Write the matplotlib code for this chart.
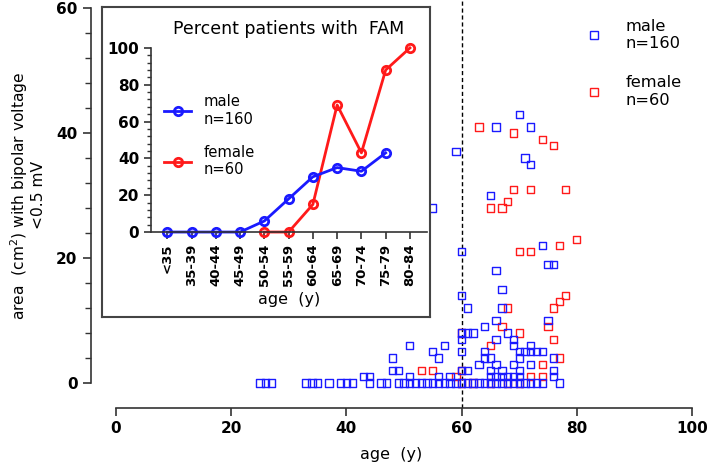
#Scatter of low-voltage area vs age, with an inset of percent patients with FAM

import numpy as np
import matplotlib
matplotlib.use('Agg')
import matplotlib.pyplot as plt
from matplotlib.ticker import MultipleLocator, FixedLocator
from matplotlib.lines import Line2D

# male scatter (age in years, area in cm2)
male_age = [25, 26, 27, 33, 34, 35, 37, 39, 40, 41, 44, 46, 47, 49, 50, 51, 52, 53,
            54, 55, 56, 57, 58, 59, 60, 61, 62, 63, 64, 65, 66, 67, 68, 69, 70, 71,
            72, 73, 74, 77,
            43, 44, 51, 56, 58, 65, 66, 67, 68, 69, 70, 76,
            48, 49, 60, 61, 65, 67, 70, 76,
            63, 66, 69, 72,
            48, 56, 64, 65, 70, 76,
            55, 60, 64, 70, 71, 72, 73, 74,
            51, 57, 69, 72,
            60, 66, 69,
            60, 61, 62, 68,
            64, 66, 75, 61, 67, 60, 67, 66, 75, 76, 60, 74,
            55, 65, 72, 71, 59, 66, 72, 70]
male_area = [0] * 40 + [1] * 12 + [2] * 8 + [3] * 4 + [4] * 6 + [5] * 8 + [6] * 4 + \
            [7] * 3 + [8] * 4 + \
            [9, 10, 10, 12, 12, 14, 15, 18, 19, 19, 21, 22,
             28, 30, 35, 36, 37, 41, 41, 43]

# female scatter
female_age = [60, 62, 65, 68, 70, 59, 72, 74, 53, 55, 60, 74, 77, 65, 76, 60, 70,
              67, 75, 68, 76, 77, 78, 70, 72, 77, 80, 65, 67, 68, 69, 72, 78,
              76, 74, 69, 63]
female_area = [0, 0, 0, 0, 0, 1, 1, 1, 2, 2, 2, 3, 4, 6, 7, 8, 8,
               9, 9, 12, 12, 13, 14, 21, 21, 22, 23, 28, 28, 29, 31, 31, 31,
               38, 39, 40, 41]

# inset: percent patients with FAM per age group
age_groups = ['<35', '35-39', '40-44', '45-49', '50-54', '55-59', '60-64',
              '65-69', '70-74', '75-79', '80-84']
male_pct = [0, 0, 0, 0, 6, 18, 30, 35, 33, 43]
female_pct = [0, 0, 15, 69, 43, 88, 100]
female_start = 4

BLUE = '#1a1aff'
RED = '#ff1a1a'
AXC = '#333333'

plt.rcParams['font.family'] = 'DejaVu Sans'

fig = plt.figure(figsize=(7.08, 4.65), dpi=100)

def MainScatter(fig):
    '''Draws the main scatter plot of area vs age'''
    ax = fig.add_axes([0.1281, 0.1226, 0.9774 - 0.1281, 1.0 - 0.1226])
    ax.scatter(female_age, female_area, marker='s', s=28, facecolors='none',
               edgecolors=RED, linewidths=1.0, zorder=3)
    ax.scatter(male_age, male_area, marker='s', s=28, facecolors='none',
               edgecolors=BLUE, linewidths=1.0, zorder=4)
    ax.axvline(60, color='black', lw=1.0, ls=(0, (3, 2)), zorder=2)
    ax.set_xlim(-4.4, 100)
    ax.set_ylim(-4, 61.3)
    for s in ['top', 'right']:
        ax.spines[s].set_visible(False)
    ax.spines['left'].set_bounds(0, 60)
    ax.spines['bottom'].set_bounds(0, 100)
    for s in ['left', 'bottom']:
        ax.spines[s].set_linewidth(1.2)
        ax.spines[s].set_color(AXC)
    ax.set_xticks(np.arange(0, 101, 20))
    ax.set_yticks(np.arange(0, 61, 20))
    ax.yaxis.set_minor_locator(FixedLocator(np.arange(0, 61, 4)))
    ax.tick_params(axis='both', which='major', length=6, width=1.2, color=AXC,
                   labelsize=11)
    ax.tick_params(axis='y', which='minor', length=4, width=1.0, color=AXC)
    for lab in ax.get_xticklabels() + ax.get_yticklabels():
        lab.set_fontweight('bold')
    ax.set_xlabel('age  (y)', fontsize=11.5, labelpad=8)
    ax.set_ylabel('area  (cm$^2$) with bipolar voltage\n<0.5 mV', fontsize=11.2,
                  linespacing=1.1)
    ax.yaxis.set_label_coords(-0.074, 0.521)

    handles = [Line2D([], [], ls='none', marker='s', ms=6, mfc='none', mec=BLUE, mew=1.0),
               Line2D([], [], ls='none', marker='s', ms=6, mfc='none', mec=RED, mew=1.0)]
    ax.legend(handles, ['male\nn=160', 'female\nn=60'], loc='upper left',
              bbox_to_anchor=(0.80, 0.99), frameon=False, fontsize=11.7,
              handletextpad=1.4, labelspacing=1.5, handlelength=1.0)
    return ax

def InsetPlot(fig):
    '''Draws the framed inset with percent patients with FAM'''
    box = fig.add_axes([0.1436, 0.3176, 0.6073 - 0.1436, 0.984 - 0.3176])
    box.set_xticks([])
    box.set_yticks([])
    box.patch.set_facecolor('white')
    for s in box.spines.values():
        s.set_linewidth(1.5)
        s.set_color('#444444')
    box.set_zorder(5)

    ax = fig.add_axes([0.2133, 0.501, 0.603 - 0.2133, 0.897 - 0.501])
    ax.set_zorder(6)
    ax.patch.set_alpha(0)
    x = np.arange(len(age_groups))
    ax.plot(x[female_start:], female_pct, color=RED, lw=2, marker='o', ms=6,
            mfc='none', mec=RED, mew=2, label='female\nn=60', clip_on=False)
    ax.plot(x[:len(male_pct)], male_pct, color=BLUE, lw=2, marker='o', ms=6,
            mfc='none', mec=BLUE, mew=2, label='male\nn=160', clip_on=False)
    ax.set_xlim(-0.67, 10.7)
    ax.set_ylim(0, 100)
    for s in ['top', 'right']:
        ax.spines[s].set_visible(False)
    for s in ['left', 'bottom']:
        ax.spines[s].set_linewidth(1.2)
        ax.spines[s].set_color(AXC)
    ax.set_xticks(x)
    ax.set_xticklabels(age_groups, rotation=90, fontsize=9.5, fontweight='bold')
    ax.set_yticks(np.arange(0, 101, 20))
    ax.yaxis.set_minor_locator(MultipleLocator(4))
    ax.tick_params(axis='both', which='major', length=5, width=1.2, color=AXC)
    ax.tick_params(axis='y', which='minor', length=3, width=1.0, color=AXC)
    ax.tick_params(axis='y', labelsize=11)
    for lab in ax.get_yticklabels():
        lab.set_fontweight('bold')
    ax.set_xlabel('age  (y)', fontsize=11.5, labelpad=4)
    ax.set_title('Percent patients with  FAM', fontsize=12.5, pad=10)
    h, l = ax.get_legend_handles_labels()
    ax.legend(h[::-1], l[::-1], loc='upper left', bbox_to_anchor=(0.0, 0.82),
              frameon=False, fontsize=10.6, handlelength=1.8, handletextpad=0.9,
              labelspacing=1.25)
    return ax

MainScatter(fig)
InsetPlot(fig)
fig.savefig('out.png', dpi=100)
